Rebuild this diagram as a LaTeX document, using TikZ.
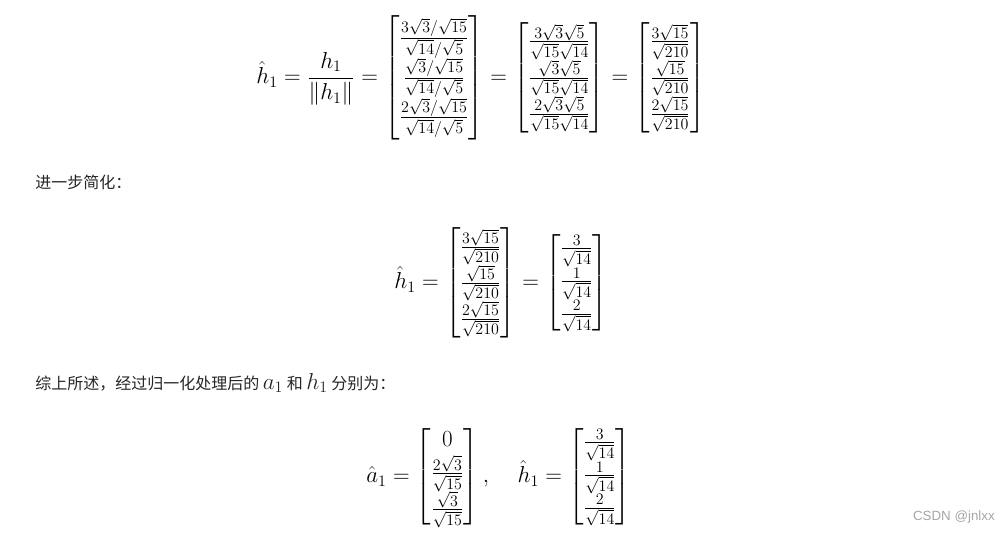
\documentclass[tikz,border=0pt]{standalone}
\usepackage{amsmath}
\usepackage{fontspec}
\newfontfamily\cjk{Noto Sans CJK SC}
\begin{document}
\begin{tikzpicture}[x=0.75pt,y=-0.75pt,
  eq/.style={anchor=west,inner sep=0pt,font=\fontsize{18.5}{22}\selectfont},
  txt/.style={anchor=west,inner sep=0pt,font=\fontsize{12}{14}\selectfont\cjk,text=black!85}]
\fill[white] (0,0) rectangle (1003,536);
\useasboundingbox (0,0) rectangle (1003,536);
\node[eq] (e1) at (256,78) {$\hat h_1=\dfrac{h_1}{\|h_1\|}=\begin{bmatrix}\frac{3\sqrt3/\sqrt{15}}{\sqrt{14}/\sqrt5}\\ \frac{\sqrt3/\sqrt{15}}{\sqrt{14}/\sqrt5}\\ \frac{2\sqrt3/\sqrt{15}}{\sqrt{14}/\sqrt5}\end{bmatrix}=\begin{bmatrix}\frac{3\sqrt3\sqrt5}{\sqrt{15}\sqrt{14}}\\ \frac{\sqrt3\sqrt5}{\sqrt{15}\sqrt{14}}\\ \frac{2\sqrt3\sqrt5}{\sqrt{15}\sqrt{14}}\end{bmatrix}=\begin{bmatrix}\frac{3\sqrt{15}}{\sqrt{210}}\\ \frac{\sqrt{15}}{\sqrt{210}}\\ \frac{2\sqrt{15}}{\sqrt{210}}\end{bmatrix}$};
\node[txt] (t1) at (35,182) {进一步简化：};
\node[eq] (e2) at (394,283) {$\hat h_1=\begin{bmatrix}\frac{3\sqrt{15}}{\sqrt{210}}\\ \frac{\sqrt{15}}{\sqrt{210}}\\ \frac{2\sqrt{15}}{\sqrt{210}}\end{bmatrix}=\begin{bmatrix}\frac{3}{\sqrt{14}}\\ \frac{1}{\sqrt{14}}\\ \frac{2}{\sqrt{14}}\end{bmatrix}$};
\node[txt] (t2) at (35,383) {综上所述，经过归一化处理后的 {\fontsize{17}{20}\selectfont$a_1$} 和 {\fontsize{17}{20}\selectfont$h_1$} 分别为：};
\node[eq] (e3) at (366,477) {$\hat a_1=\begin{bmatrix}0\\ \frac{2\sqrt3}{\sqrt{15}}\\ \frac{\sqrt3}{\sqrt{15}}\end{bmatrix},\quad \hat h_1=\begin{bmatrix}\frac{3}{\sqrt{14}}\\ \frac{1}{\sqrt{14}}\\ \frac{2}{\sqrt{14}}\end{bmatrix}$};
\node[anchor=east,inner sep=0pt,font=\fontsize{10}{12}\selectfont\fontspec{Liberation Sans},text=black!35] (wm) at (995,517) {CSDN @jnlxx};
\end{tikzpicture}
\end{document}
